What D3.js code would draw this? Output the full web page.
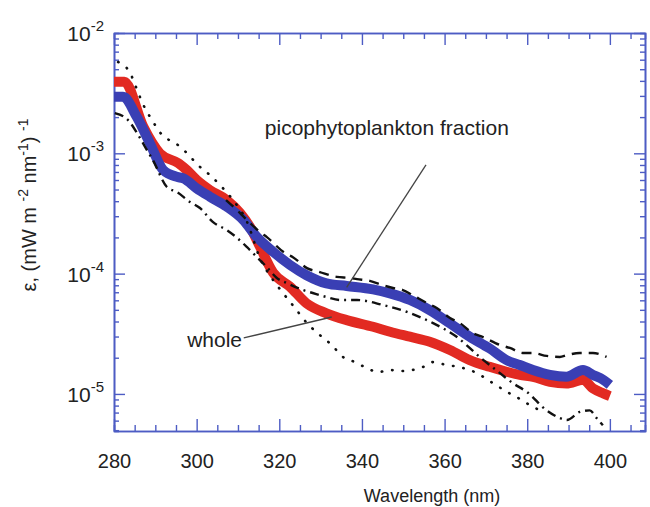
<!DOCTYPE html>
<html>
<head>
<meta charset="utf-8">
<script src="https://cdn.jsdelivr.net/npm/d3@7"></script>
<style>
  body { margin: 0; background: #fff; }
  text { font-family: "Liberation Sans", Arial, sans-serif; fill: #222; }
</style>
</head>
<body>
<svg id="chart" width="650" height="507"></svg>
<script>
// wavelength (nm) and epsilon values
var wholeWl = [280, 282.5, 287.1, 291.1, 295.6, 297.6, 300, 303.2, 307.3, 310.5, 312.9, 315.3, 318.5, 322.6, 326.6, 331.4, 336.3, 342.7, 346.8, 351.6, 356.4, 361.3, 366.1, 370.9, 375, 378.2, 381.4, 385.5, 389.5, 393.5, 395.9, 398.4, 400];
var wholeEps = [3.94e-3, 3.94e-3, 1.66e-3, 1.0e-3, 8.26e-4, 7.26e-4, 6.0e-4, 4.95e-4, 4.09e-4, 3.2e-4, 2.45e-4, 1.68e-4, 1.02e-4, 7.78e-5, 5.66e-5, 4.68e-5, 4.11e-5, 3.62e-5, 3.29e-5, 2.99e-5, 2.72e-5, 2.32e-5, 1.91e-5, 1.68e-5, 1.53e-5, 1.44e-5, 1.39e-5, 1.26e-5, 1.22e-5, 1.31e-5, 1.11e-5, 1.01e-5, 9.6e-6];

var picoWl = [280, 282.2, 285.5, 288.7, 291.9, 295.2, 296.8, 300, 303.2, 307.3, 311.3, 314.5, 318.5, 322.6, 326.6, 331.4, 336.3, 342.7, 346.8, 351.6, 356.4, 361.3, 366.1, 370.9, 375, 378.2, 381.4, 385.5, 389.5, 393.5, 395.9, 398.4, 400];
var picoEps = [2.95e-3, 2.95e-3, 2.01e-3, 1.21e-3, 7.26e-4, 6.38e-4, 6.19e-4, 5.12e-4, 4.36e-4, 3.6e-4, 2.79e-4, 2.03e-4, 1.52e-4, 1.18e-4, 9.7e-5, 8.3e-5, 7.9e-5, 7.4e-5, 6.85e-5, 6.04e-5, 4.98e-5, 3.86e-5, 2.99e-5, 2.39e-5, 1.91e-5, 1.74e-5, 1.58e-5, 1.44e-5, 1.39e-5, 1.58e-5, 1.44e-5, 1.31e-5, 1.19e-5];

// envelope lines (black)
var dotWl = [281, 283.9, 285.6, 287, 289.2, 291.9, 294.8, 297.7, 300.3, 303.2, 306.1, 308.8, 312.2, 315.3, 318.5, 320.9, 323.8, 326.7, 329.8, 332.7, 335.4, 338.3, 341.2, 343.9, 346.8, 349.2, 352.1, 354.7, 357.2, 360.5, 363.7, 367.3, 371.7, 375.1, 377.5, 380.6, 383];
var dotEps = [5.74e-3, 4.65e-3, 3.36e-3, 2.57e-3, 1.89e-3, 1.39e-3, 1.22e-3, 1.0e-3, 8.0e-4, 6.6e-4, 5.25e-4, 4.09e-4, 2.69e-4, 1.35e-4, 8.85e-5, 6.9e-5, 5.18e-5, 3.88e-5, 3.09e-5, 2.55e-5, 2.03e-5, 1.84e-5, 1.64e-5, 1.52e-5, 1.58e-5, 1.55e-5, 1.58e-5, 1.67e-5, 1.84e-5, 1.74e-5, 1.67e-5, 1.52e-5, 1.23e-5, 1.04e-5, 9.4e-6, 8.1e-6, 7.3e-6];

var dashDotWl = [280.2, 283.4, 285.6, 288, 289.4, 292.8, 295.2, 298.4, 300.8, 303.9, 307.3, 309.8, 312.2, 314.6, 317, 319.4, 321.8, 325.7, 328.1, 331.5, 334.7, 338.8, 345.1, 350.9, 357.2, 363, 368.5, 373.4, 376.5, 379.9, 384.7, 387.9, 389.6, 392.7, 395.1, 396.8, 398.3];
var dashDotEps = [2.16e-3, 1.89e-3, 1.47e-3, 1.06e-3, 8.8e-4, 5.25e-4, 4.77e-4, 3.94e-4, 3.51e-4, 2.69e-4, 2.3e-4, 1.98e-4, 1.66e-4, 1.37e-4, 1.13e-4, 9.2e-5, 8.36e-5, 7.31e-5, 6.9e-5, 6.38e-5, 6.04e-5, 6.04e-5, 5.48e-5, 4.8e-5, 3.88e-5, 2.97e-5, 2.03e-5, 1.49e-5, 1.23e-5, 1.04e-5, 7.3e-6, 6.3e-6, 6.07e-6, 7.08e-6, 7.3e-6, 6.3e-6, 5.5e-6];

var dashWl = [307.1, 310.5, 312.2, 315.3, 317, 321.4, 323.3, 326.7, 329.8, 333.9, 337.1, 338.8, 341.9, 345.1, 347.5, 349.9, 352.3, 355.7, 358.1, 361.3, 363.7, 366.8, 369.3, 373.4, 375.8, 378.9, 381.3, 384.7, 387.9, 389.6, 392.7, 395.9, 399.2];
var dashEps = [4.09e-4, 3.19e-4, 2.79e-4, 2.22e-4, 2.01e-4, 1.48e-4, 1.37e-4, 1.11e-4, 1.03e-4, 9.4e-5, 9.2e-5, 9.0e-5, 8.7e-5, 8.0e-5, 7.6e-5, 7.3e-5, 6.6e-5, 5.7e-5, 5.18e-5, 4.28e-5, 3.88e-5, 3.21e-5, 2.97e-5, 2.55e-5, 2.41e-5, 2.19e-5, 2.19e-5, 2.07e-5, 2.03e-5, 2.1e-5, 2.19e-5, 2.19e-5, 2.03e-5];

var xTicks = [280, 300, 320, 340, 360, 380, 400];
var yTicks = [1e-5, 1e-4, 1e-3, 1e-2];
var yExponents = ["-5", "-4", "-3", "-2"];

var axisColor = "#4d5cc4";

var svg = d3.select("#chart");

var x = d3.scaleLinear().domain([280, 408.5]).range([114, 645]);
var y = d3.scaleLog().domain([4.92e-6, 1e-2]).range([431, 33]);

var xMinor = d3.range(285, 410, 5).filter(d => d % 20 !== 0);
var yMinor = [];
[1e-6, 1e-5, 1e-4, 1e-3].forEach(function(dec) {
    for (var k = 2; k <= 9; k++) {
        var v = dec * k;
        if (v >= 4.92e-6 && v < 1e-2) yMinor.push(v);
    }
});

function styleAxis(g) {
    g.select(".domain").attr("stroke", axisColor).attr("stroke-width", 1.6);
    g.selectAll(".tick line").attr("stroke", axisColor).attr("stroke-width", 1.4);
}

// bottom
var gBottom = svg.append("g").attr("transform", "translate(0,431)")
    .call(d3.axisBottom(x).tickValues(xTicks).tickSizeInner(-12).tickSizeOuter(0).tickFormat(d3.format("d")));
styleAxis(gBottom);
gBottom.selectAll(".tick text")
    .attr("dy", null).attr("y", 37)
    .attr("font-size", 20).attr("fill", "#222");
svg.append("g").attr("transform", "translate(0,431)")
    .call(d3.axisBottom(x).tickValues(xMinor).tickSize(-6).tickFormat(""))
    .call(styleAxis);

// top
svg.append("g").attr("transform", "translate(0,33)")
    .call(d3.axisTop(x).tickValues(xTicks).tickSizeInner(-12).tickSizeOuter(0).tickFormat(""))
    .call(styleAxis);
svg.append("g").attr("transform", "translate(0,33)")
    .call(d3.axisTop(x).tickValues(xMinor).tickSize(-6).tickFormat(""))
    .call(styleAxis);

// left
svg.append("g").attr("transform", "translate(114,0)")
    .call(d3.axisLeft(y).tickValues(yTicks).tickSizeInner(-11).tickSizeOuter(0).tickFormat(""))
    .call(styleAxis);
svg.append("g").attr("transform", "translate(114,0)")
    .call(d3.axisLeft(y).tickValues(yMinor).tickSize(-5).tickFormat(""))
    .call(styleAxis);

// right
svg.append("g").attr("transform", "translate(645,0)")
    .call(d3.axisRight(y).tickValues(yTicks).tickSizeInner(-11).tickSizeOuter(0).tickFormat(""))
    .call(styleAxis);
svg.append("g").attr("transform", "translate(645,0)")
    .call(d3.axisRight(y).tickValues(yMinor).tickSize(-5).tickFormat(""))
    .call(styleAxis);

// y tick labels as 10^n
var yLab = svg.selectAll(".ylab").data(yTicks).enter().append("text")
    .attr("class", "ylab")
    .attr("x", 104)
    .attr("y", d => y(d) + 8)
    .attr("text-anchor", "end");
yLab.append("tspan").attr("font-size", 21).text("10");
yLab.append("tspan").attr("font-size", 15).attr("dy", -10).text((d, i) => yExponents[i]);

// curves
var line = d3.line()
    .x(d => x(d[0]))
    .y(d => y(d[1]))
    .curve(d3.curveMonotoneX);

function pairs(a, b) { return a.map((v, i) => [v, b[i]]); }

svg.append("path").datum(pairs(wholeWl, wholeEps))
    .attr("d", line).attr("fill", "none")
    .attr("stroke", "#e22a22").attr("stroke-width", 10);

svg.append("path").datum(pairs(picoWl, picoEps))
    .attr("d", line).attr("fill", "none")
    .attr("stroke", "#3a3fb4").attr("stroke-width", 10);

svg.append("path").datum(pairs(dotWl, dotEps))
    .attr("d", line).attr("fill", "none")
    .attr("stroke", "#111").attr("stroke-width", 2.6)
    .attr("stroke-linecap", "round").attr("stroke-dasharray", "0.5,10");

svg.append("path").datum(pairs(dashDotWl, dashDotEps))
    .attr("d", line).attr("fill", "none")
    .attr("stroke", "#111").attr("stroke-width", 2.4)
    .attr("stroke-dasharray", "9,5,2,5");

svg.append("path").datum(pairs(dashWl, dashEps))
    .attr("d", line).attr("fill", "none")
    .attr("stroke", "#111").attr("stroke-width", 2.4)
    .attr("stroke-dasharray", "10,7");

// annotations
var notes = [
    {text: "picophytoplankton fraction", tx: 316.5, ty: 1.42e-3, from: [355.5, 8.0e-4], to: [336.3, 7.7e-5]},
    {text: "whole", tx: 297.7, ty: 2.45e-5, from: [311.4, 2.92e-5], to: [332.7, 4.36e-5]}
];
notes.forEach(function(n) {
    svg.append("line")
        .attr("x1", x(n.from[0])).attr("y1", y(n.from[1]))
        .attr("x2", x(n.to[0])).attr("y2", y(n.to[1]))
        .attr("stroke", "#444").attr("stroke-width", 1.3);
    svg.append("text")
        .attr("x", x(n.tx)).attr("y", y(n.ty))
        .attr("font-size", 21)
        .text(n.text);
});

// axis titles
svg.append("text")
    .attr("x", 432).attr("y", 502)
    .attr("text-anchor", "middle")
    .attr("font-size", 18)
    .text("Wavelength (nm)");

var yTitle = svg.append("text")
    .attr("transform", "translate(36,205) rotate(-90)")
    .attr("text-anchor", "middle")
    .attr("font-size", 20);
yTitle.append("tspan").text("ε, (mW m ");
yTitle.append("tspan").attr("font-size", 14).attr("dy", -8).text("-2");
yTitle.append("tspan").attr("dy", 8).text(" nm");
yTitle.append("tspan").attr("font-size", 14).attr("dy", -8).text("-1");
yTitle.append("tspan").attr("dy", 8).text(") ");
yTitle.append("tspan").attr("font-size", 14).attr("dy", -8).text("-1");
</script>
</body>
</html>
